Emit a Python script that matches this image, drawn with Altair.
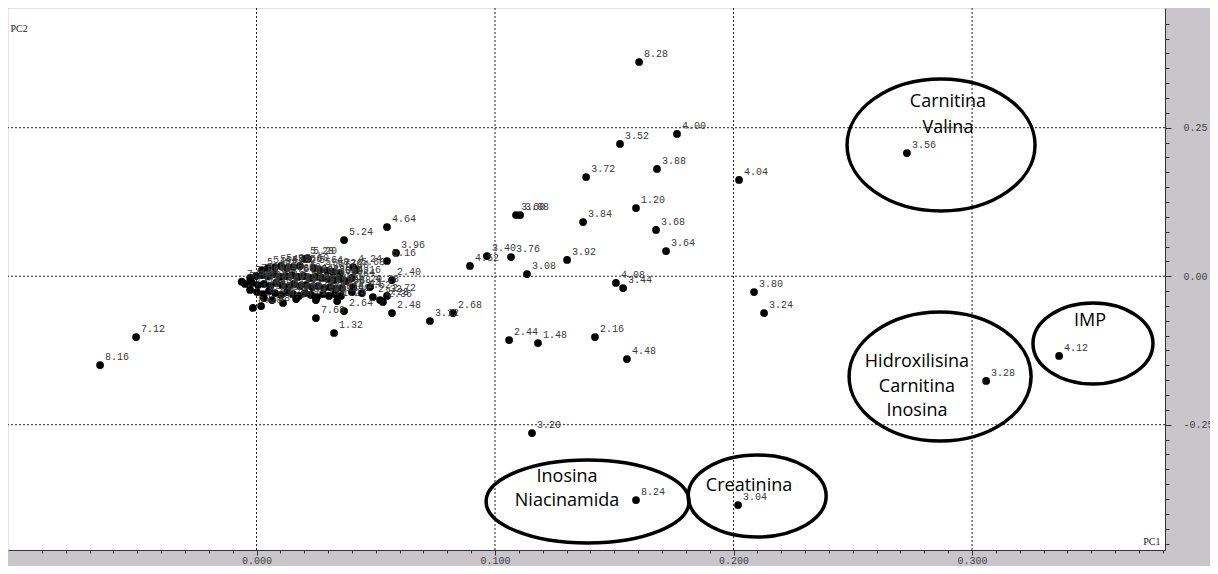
import altair as alt
import pandas as pd

# ---- data (PC1 / PC2 scores, labelled by ppm bucket) ----
labels = [
    "8.28", "4.00", "3.52", "3.88", "3.72", "4.04", "3.56", "1.20", "3.84", "3.68",
    "3.64", "3.60", "3.08", "3.40", "3.76", "4.52", "3.92", "3.08", "4.08", "3.44",
    "3.80", "3.24", "3.28", "4.12", "2.68", "3.12", "2.44", "1.48", "2.16", "4.48",
    "3.20", "8.24", "3.04", "7.12", "8.16", "1.32", "7.68", "2.64", "2.48", "2.36",
    "2.72", "2.40", "3.96", "5.16", "4.64", "5.24", "4.24", "5.68", "4.16", "5.28",
    "5.20",
    "7.44", "7.36", "7.32", "7.40", "7.52", "8.20", "1.28", "7.48", "7.56", "7.60",
    "5.40", "6.88", "6.92", "7.04", "8.00", "5.44", "6.84", "6.96", "7.08", "7.92",
    "6.80", "5.48", "7.00", "7.16", "6.76", "5.36", "7.20", "6.72", "0.90", "6.68",
    "5.32", "7.24", "6.64", "6.60", "5.56", "7.64", "6.56", "0.94", "6.52", "7.72",
    "5.60", "6.48", "6.44", "7.76", "6.40", "6.36", "7.80", "6.32", "5.64", "6.28",
    "1.04", "7.84", "6.24", "5.68", "6.20", "7.88", "6.12", "5.72", "6.08", "1.12",
    "6.04", "5.76", "6.00", "1.16", "5.96", "1.24", "5.80", "5.92", "1.40", "5.88",
    "5.84", "1.44", "4.20", "1.52", "4.28", "2.32", "2.28",
]
pc1 = [
    0.1604, 0.1763, 0.1524, 0.1679, 0.1382, 0.2023, 0.2727, 0.1591, 0.1369, 0.1675,
    0.1717, 0.1088, 0.1105, 0.0966, 0.1067, 0.0895, 0.1302, 0.1134, 0.1507, 0.1537,
    0.2086, 0.2128, 0.3059, 0.3365, 0.0824, 0.0727, 0.1059, 0.1180, 0.1419, 0.1553,
    0.1155, 0.1591, 0.2019, -0.0505, -0.0656, 0.0325, 0.0249, 0.0367, 0.0568, 0.0530,
    0.0547, 0.0568, 0.0585, 0.0547, 0.0547, 0.0367, 0.0405, 0.0417, 0.0400, 0.0203,
    0.0216,
    -0.0062, -0.0048, -0.0027, -0.0027, -0.0019, -0.0015, 0.0019, -0.0002, 0.0002, 0.0006,
    0.0023, 0.0023, 0.0027, 0.0031, 0.0031, 0.0048, 0.0048, 0.0052, 0.0057, 0.0065,
    0.0073, 0.0078, 0.0078, 0.0082, 0.0099, 0.0103, 0.0103, 0.0107, 0.0111, 0.0124,
    0.0128, 0.0128, 0.0132, 0.0149, 0.0153, 0.0153, 0.0157, 0.0166, 0.0174, 0.0178,
    0.0182, 0.0182, 0.0199, 0.0203, 0.0208, 0.0224, 0.0229, 0.0233, 0.0241, 0.0249,
    0.0249, 0.0254, 0.0258, 0.0266, 0.0275, 0.0279, 0.0283, 0.0296, 0.0300, 0.0304,
    0.0308, 0.0321, 0.0325, 0.0329, 0.0333, 0.0338, 0.0350, 0.0350, 0.0354, 0.0358,
    0.0375, 0.0400, 0.0405, 0.0442, 0.0476, 0.0488, 0.0518,
]
pc2 = [
    0.3606, 0.2394, 0.2226, 0.1805, 0.1670, 0.1620, 0.2074, 0.1148, 0.0912, 0.0778,
    0.0424, 0.1030, 0.1030, 0.0340, 0.0323, 0.0172, 0.0273, 0.0037, -0.0114, -0.0199,
    -0.0266, -0.0620, -0.1764, -0.1343, -0.0620, -0.0754, -0.1074, -0.1125, -0.1024, -0.1394,
    -0.2640, -0.3768, -0.3852, -0.1024, -0.1495, -0.0956, -0.0704, -0.0586, -0.0620, -0.0434,
    -0.0333, -0.0064, 0.0391, 0.0256, 0.0828, 0.0609, 0.0155, 0.0104, -0.0030, 0.0290,
    0.0290,
    -0.0093, -0.0131, -0.0030, -0.0232, -0.0114, -0.0535, -0.0502, 0.0003, -0.0266, -0.0148,
    0.0104, 0.0020, -0.0300, -0.0131, -0.0367, 0.0138, 0.0003, -0.0249, -0.0165, -0.0401,
    0.0037, 0.0155, -0.0283, -0.0114, -0.0013, 0.0172, -0.0316, -0.0148, -0.0451, 0.0003,
    0.0138, -0.0266, -0.0182, 0.0020, 0.0155, -0.0300, -0.0131, -0.0384, -0.0013, -0.0333,
    0.0172, -0.0165, 0.0003, -0.0283, -0.0148, -0.0030, -0.0316, -0.0182, 0.0138, -0.0013,
    -0.0401, -0.0350, -0.0165, 0.0104, -0.0030, -0.0300, -0.0199, 0.0088, -0.0047, -0.0333,
    -0.0182, 0.0071, -0.0064, -0.0300, -0.0215, -0.0418, 0.0054, -0.0047, -0.0333, -0.0199,
    -0.0081, -0.0266, -0.0182, -0.0283, -0.0182, -0.0350, -0.0401,
]

# grid positions
grid_x = [0.0, 0.1, 0.2, 0.3]
grid_y = [-0.25, 0.0, 0.25]

# annotation groups (ellipse centres) and their text lines
group_names = ["Carnitina/Valina", "Hidroxilisina/Carnitina/Inosina", "IMP",
               "Inosina/Niacinamida", "Creatinina"]
group_pc1 = [0.2870, 0.2866, 0.3507, 0.1388, 0.2099]
group_pc2 = [0.2209, -0.1689, -0.1133, -0.3793, -0.3700]

note_text = ["Carnitina", "Valina", "Hidroxilisina", "Carnitina", "Inosina", "IMP",
             "Inosina", "Niacinamida", "Creatinina"]
note_pc1 = [0.2899, 0.2899, 0.2769, 0.2769, 0.2769, 0.3495, 0.1302, 0.1302, 0.2065]
note_pc2 = [0.2933, 0.2495, -0.1444, -0.1865, -0.2269, -0.0758, -0.3380, -0.3784, -0.3535]

# ---- build tables ----
pts = pd.DataFrame({"label": labels, "PC1": pc1, "PC2": pc2})
gx = pd.DataFrame({"PC1": grid_x})
gy = pd.DataFrame({"PC2": grid_y})
notes = pd.DataFrame({"t": note_text, "PC1": note_pc1, "PC2": note_pc2})

xs = alt.Scale(domain=[-0.1042, 0.3809], nice=False, zero=False)
ys = alt.Scale(domain=[-0.4609, 0.4515], nice=False, zero=False)

x_ticks = [round(-0.09 + 0.01 * i, 2) for i in range(48)]
y_ticks = [round(-0.45 + 0.025 * i, 3) for i in range(36)]

x_major = "abs(datum.value*10 - round(datum.value*10)) < 0.001"
y_major = "abs(datum.value*4 - round(datum.value*4)) < 0.001"

x_axis = alt.Axis(
    values=x_ticks, grid=False,
    labelExpr=f"{x_major} ? replace(format(datum.value, '.3f'), '\u2212', '-') : ''",
    tickSize={"condition": {"test": x_major, "value": 5}, "value": 3},
    domainColor="#333333", tickColor="#333333", labelColor="#444444",
    labelFont="Liberation Mono", labelFontSize=10, labelPadding=0,
    labelBaseline="top",
    title="PC1", titleX=1152, titleY=-4, titleAlign="right", titleBaseline="bottom",
    titleFont="Liberation Serif", titleFontSize=10, titleFontWeight="normal",
    titleColor="#222222",
)
y_axis = alt.Axis(
    orient="right", values=y_ticks, grid=False,
    labelExpr=f"{y_major} ? replace(format(datum.value, '.2f'), '\u2212', '-') : ''",
    tickSize={"condition": {"test": y_major, "value": 6}, "value": 4},
    domainColor="#333333", tickColor="#333333", labelColor="#444444",
    labelFont="Liberation Mono", labelFontSize=10, labelPadding=12,
    title="PC2", titleAngle=0, titleX=-1155, titleY=20, titleAlign="left",
    titleBaseline="middle", titleFont="Liberation Serif", titleFontSize=10,
    titleFontWeight="normal", titleColor="#222222",
)

X = alt.X("PC1:Q", scale=xs, axis=x_axis)
Y = alt.Y("PC2:Q", scale=ys, axis=y_axis)

grid_v = alt.Chart(gx).mark_rule(color="#222222", strokeWidth=1, strokeDash=[2, 2]).encode(x=X)
grid_h = alt.Chart(gy).mark_rule(color="#222222", strokeWidth=1, strokeDash=[2, 2]).encode(y=Y)

dots = alt.Chart(pts).mark_circle(size=60, color="black", opacity=1).encode(x=X, y=Y)
dot_labels = alt.Chart(pts).mark_text(
    align="left", baseline="middle", dx=5, dy=-8,
    font="Liberation Mono", fontSize=10, color="#3a3a3a",
).encode(x=X, y=Y, text="label:N")

# ellipse outlines: (semi-axis ratio, pixel diameter) per group
ellipse_style = [(0.702, 188), (0.709, 182), (0.675, 120), (0.409, 203), (0.594, 138)]
ellipses = []
for i, (k, d) in enumerate(ellipse_style):
    path = f"M -1 0 A 1 {k} 0 1 1 1 0 A 1 {k} 0 1 1 -1 0 Z"
    df = pd.DataFrame({"g": [group_names[i]], "PC1": [group_pc1[i]], "PC2": [group_pc2[i]]})
    ellipses.append(
        alt.Chart(df).mark_point(
            shape=path, size=d * d, filled=False, color="black",
            strokeWidth=3.5, opacity=1,
        ).encode(x=X, y=Y)
    )

note_marks = alt.Chart(notes).mark_text(
    align="center", baseline="middle", font="Open Sans", fontSize=18, color="black",
).encode(x=X, y=Y, text="t:N")

chart = alt.layer(dots, grid_v, grid_h, *ellipses, dot_labels, note_marks).properties(
    width=1157, height=542,
    autosize=alt.AutoSizeParams(type="none"),
    padding={"left": 0, "top": 0, "right": 45, "bottom": 16},
    background="#c8c6cb",
).configure_view(fill="white", stroke="transparent")

chart.save("out.html", embed_options={"renderer": "svg", "actions": False})
